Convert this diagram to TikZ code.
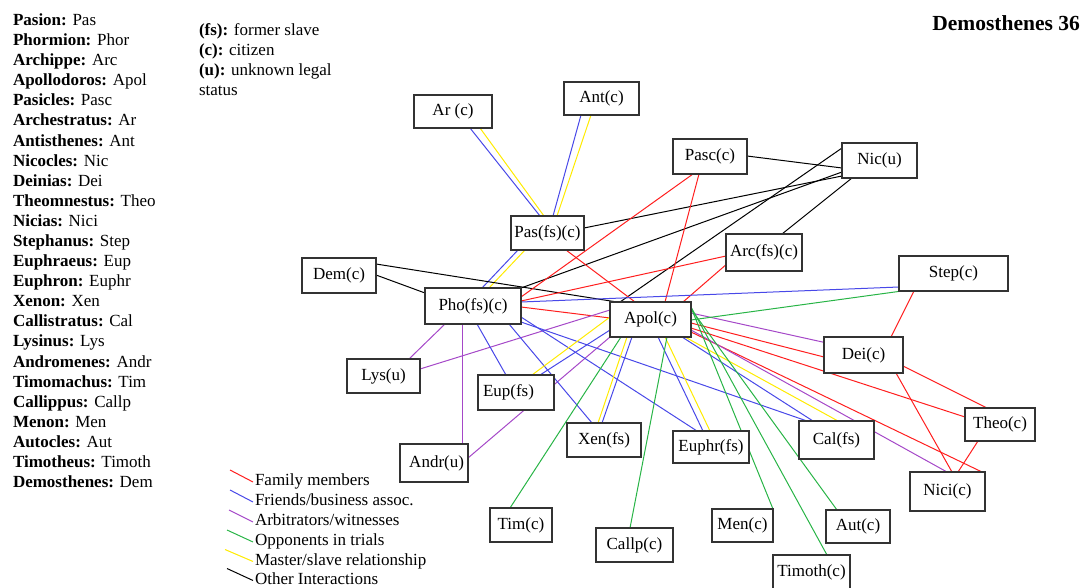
\documentclass[tikz,border=0pt]{standalone}
\usepackage{fontspec}
\setmainfont{Liberation Serif}

\definecolor{famred}{RGB}{255,30,30}
\definecolor{frdblue}{RGB}{72,72,232}
\definecolor{arbpurple}{RGB}{165,72,200}
\definecolor{oppgreen}{RGB}{40,180,70}
\definecolor{mstyellow}{RGB}{255,235,0}

\pgfdeclarelayer{ties}
\pgfsetlayers{ties,main}

\tikzset{
  person/.style={draw=black!80, line width=1.3pt, fill=white, inner sep=0pt,
                 outer sep=0pt, font=\fontsize{17}{20}\selectfont},
  plain/.style={inner sep=0pt, outer sep=0pt, font=\fontsize{17}{20}\selectfont},
  tie/.style={line width=1pt},
  fam/.style={tie, draw=famred},
  frd/.style={tie, draw=frdblue},
  arb/.style={tie, draw=arbpurple},
  opp/.style={tie, draw=oppgreen},
  mst/.style={tie, draw=mstyellow},
  oth/.style={tie, draw=black},
}

\begin{document}
\begin{tikzpicture}[x=1pt,y=-1pt]
\useasboundingbox (0,0) rectangle (1089,588);

% abbreviation key
\foreach \nm/\ab [count=\i from 0] in {Pasion/Pas, Phormion/Phor, Archippe/Arc,
  Apollodoros/Apol, Pasicles/Pasc, Archestratus/Ar, Antisthenes/Ant, Nicocles/Nic,
  Deinias/Dei, Theomnestus/Theo, Nicias/Nici, Stephanus/Step, Euphraeus/Eup,
  Euphron/Euphr, Xenon/Xen, Callistratus/Cal, Lysinus/Lys, Andromenes/Andr,
  Timomachus/Tim, Callippus/Callp, Menon/Men, Autocles/Aut, Timotheus/Timoth,
  Demosthenes/Dem}
  \node[plain, anchor=base west] (key\i) at (13,{25.5+20.09*\i}) {\textbf{\nm:} \ab};

% legal status key
\node[plain, anchor=base west] (stfs) at (199,35.5) {\textbf{(fs):} former slave};
\node[plain, anchor=base west] (stc) at (199,55.5) {\textbf{(c):} citizen};
\node[plain, anchor=base west] (stu) at (199,75.5) {\textbf{(u):} unknown legal};
\node[plain, anchor=base west] (stu2) at (199,95.5) {status};

% title
\node[anchor=base east, inner sep=0pt, font=\bfseries\fontsize{21.5}{24}\selectfont]
  (title) at (1080,31) {Demosthenes 36};

% people
\node[person, minimum width=78pt, minimum height=33pt] (ar) at (453,111.5) {Ar (c)};
\node[person, minimum width=75pt, minimum height=33pt] (ant) at (601.5,98.5) {Ant(c)};
\node[person, minimum width=74pt, minimum height=35pt] (pasc) at (710,156.5) {Pasc(c)};
\node[person, minimum width=75pt, minimum height=35pt] (nic) at (879.5,160.5) {Nic(u)};
\node[person, minimum width=73pt, minimum height=34pt] (pas) at (547.5,233) {Pas(fs)(c)};
\node[person, minimum width=76pt, minimum height=37pt] (arc) at (764,252.5) {Arc(fs)(c)};
\node[person, minimum width=109pt, minimum height=35pt] (step) at (953.5,273.5) {Step(c)};
\node[person, minimum width=74pt, minimum height=35pt] (dem) at (339,275.5) {Dem(c)};
\node[person, minimum width=96pt, minimum height=36pt] (pho) at (473,306) {Pho(fs)(c)};
\node[person, minimum width=81pt, minimum height=35pt] (apol) at (650.5,319.5) {Apol(c)};
\node[person, minimum width=73pt, minimum height=34pt] (lys) at (383.5,376) {Lys(u)};
\node[person, inner xsep=5pt, text width=66pt, align=left, minimum height=35pt] (eup) at (516,392.5) {Eup(fs)};
\node[person, minimum width=74pt, minimum height=34pt] (xen) at (604,440) {Xen(fs)};
\node[person, minimum width=76pt, minimum height=32pt] (euphr) at (711,447) {Euphr(fs)};
\node[person, minimum width=75pt, minimum height=38pt] (cal) at (836.5,440) {Cal(fs)};
\node[person, minimum width=79pt, minimum height=36pt] (dei) at (863.5,355) {Dei(c)};
\node[person, minimum width=70pt, minimum height=33pt] (theo) at (1000,424.5) {Theo(c)};
\node[person, minimum width=75pt, minimum height=39pt] (nici) at (947.5,491.5) {Nici(c)};
\node[person, inner xsep=4pt, text width=60pt, align=right, minimum height=38pt] (andr) at (434,463) {Andr(u)};
\node[person, minimum width=62pt, minimum height=34pt] (tim) at (521,525) {Tim(c)};
\node[person, minimum width=77pt, minimum height=34pt] (callp) at (634.5,545) {Callp(c)};
\node[person, minimum width=61pt, minimum height=33pt] (men) at (742.5,525.5) {Men(c)};
\node[person, minimum width=64pt, minimum height=33pt] (aut) at (858,526.5) {Aut(c)};
\node[person, minimum width=77pt, minimum height=35pt] (timoth) at (811.5,572.5) {Timoth(c)};

% relationships: offsets are measured from each box's top-left corner
\begin{pgfonlayer}{ties}
\foreach \a/\ax/\ay/\b/\bx/\by/\kind in {
  ar/56/33/pas/29/0/frd, ar/66/33/pas/33/0/mst,
  ant/17/33/pas/42/0/frd, ant/27/33/pas/46/0/mst,
  pas/7/34/pho/57/0/frd, pas/14/34/pho/64/0/mst,
  pasc/74/17/nic/0/25/oth, pas/73/12/nic/0/33/oth, pho/96/0/nic/0/29/oth,
  apol/10/0/nic/0/5/oth, arc/56/0/nic/10/35/oth,
  dem/74/17/pho/0/5/oth, dem/74/6/apol/7/0/oth,
  pas/55/34/apol/25/0/fam, pasc/20/35/pho/96/9/fam, pasc/26/35/apol/55/0/fam,
  arc/0/22/pho/96/13/fam, arc/2/29/apol/73/0/fam, pho/96/19/apol/0/16/fam,
  step/15/35/dei/67/0/fam, apol/81/21/dei/0/20/fam, apol/81/26/theo/0/9/fam,
  apol/81/30/nici/72/0/fam, dei/79/29/theo/22/0/fam, dei/72/36/nici/42/0/fam,
  theo/13/33/nici/48/0/fam,
  apol/81/11/dei/3/6/arb, apol/81/28/nici/37/0/arb, pho/20/36/lys/62/0/arb,
  pho/37.5/36/andr/62.5/0/arb, lys/73/10/apol/0/8/arb, apol/0/35/andr/68/14/arb,
  pho/96/14/step/0/31/frd, pho/52/36/eup/28/0/frd, pho/84/36/xen/25/0/frd,
  pho/96/29/euphr/24/0/frd, pho/96/34/cal/8/0/frd, apol/0/28/eup/62/0/frd,
  apol/22/35/xen/35/0/frd, apol/48/35/euphr/30/0/frd, apol/72/35/cal/14/0/frd,
  apol/0/15/eup/54/0/mst, apol/17/35/xen/31/0/mst, apol/55/35/euphr/37/0/mst,
  apol/75/35/cal/39/0/mst,
  apol/81/18/step/3/35/opp, apol/11/35/tim/20/0/opp, apol/57/35/callp/34/0/opp,
  apol/80/3/men/61/0/opp, apol/81/5/timoth/54/0/opp, apol/81/7/aut/11/0/opp}
  \draw[\kind] ([shift={(\ax,\ay)}]\a.north west) -- ([shift={(\bx,\by)}]\b.north west);
\end{pgfonlayer}

% relationship legend
\foreach \kind/\txt/\bl/\sx [count=\j] in {
  fam/Family members/485.5/230, frd/Friends\slash business assoc./505.5/230,
  arb/Arbitrators\slash witnesses/525.5/229, opp/Opponents in trials/545.5/227,
  mst/Master\slash slave relationship/565/225, oth/Other Interactions/584/227}
{
  \node[plain, anchor=base west] (leg\j) at (255,\bl) {\txt};
  \draw[\kind] (\sx,{\bl-15.5}) -- (253,{\bl-3.5});
}
\end{tikzpicture}
\end{document}
